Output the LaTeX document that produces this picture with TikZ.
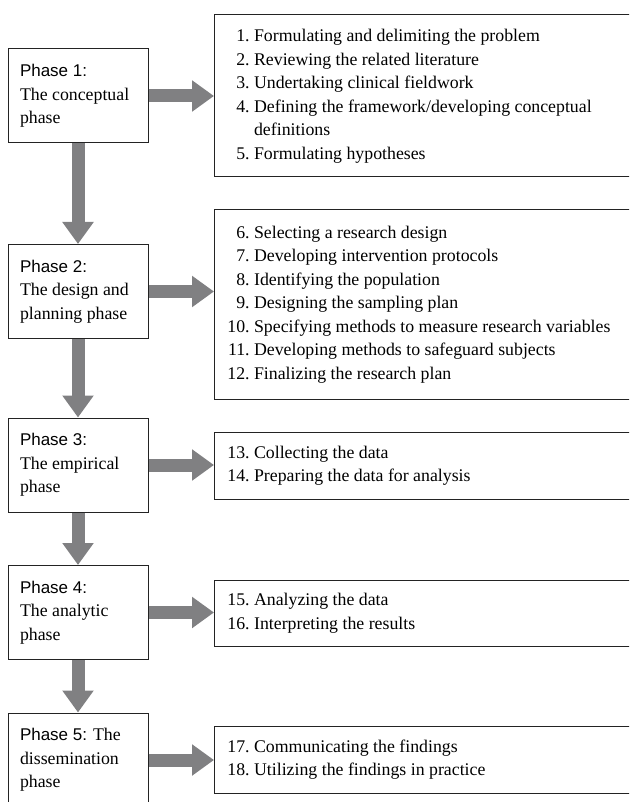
\documentclass[tikz,border=0pt]{standalone}
\usepackage{fontspec}
\setmainfont{Liberation Serif}
\setsansfont{Liberation Sans}
\usetikzlibrary{arrows.meta, positioning}
\definecolor{arrowgray}{RGB}{128,128,130}
\definecolor{boxline}{RGB}{35,35,35}
\newcommand{\phasehead}[1]{{\sffamily\fontsize{17}{23.3}\selectfont #1}}
\newcommand{\stepno}[1]{\makebox[1.3em][r]{#1}\ }

\tikzset{
  phasebox/.style={draw=boxline, line width=1pt, text width=116pt, inner xsep=12pt, minimum height=94pt, align=flush left, font=\fontsize{17.8}{23.3}\selectfont},
  listbox/.style={draw=boxline, line width=1pt, anchor=west, text width=410pt, inner xsep=12pt, align=flush left, font=\fontsize{17.8}{23.5}\selectfont},
  blockarrow/.style={draw=arrowgray, line width=13pt, -{Triangle[width=30pt, length=22pt]}},
}

\begin{document}
\begin{tikzpicture}[x=1pt, y=-1pt, line join=miter]
  \useasboundingbox (0,0) rectangle (629,802);
  \clip (0,0) rectangle (629,802);
  % phases
  \node[phasebox] (p1) at (78,96) {\phasehead{Phase 1:}\\The conceptual\\phase};
  \node[phasebox] (p2) at (78,291.5) {\phasehead{Phase 2:}\\The design and\\planning phase};
  \node[phasebox] (p3) at (78,465) {\phasehead{Phase 3:}\\The empirical\\phase};
  \node[phasebox] (p4) at (78,612.5) {\phasehead{Phase 4:}\\The analytic\\phase};
  \node[phasebox] (p5) at (78,760) {\phasehead{Phase 5:} The\\dissemination\\phase};
  % steps
  \node[listbox, minimum height=162pt] (s1) at (214,96) {\stepno{1.}Formulating and delimiting the problem\\
    \stepno{2.}Reviewing the related literature\\
    \stepno{3.}Undertaking clinical fieldwork\\
    \stepno{4.}Defining the framework/developing conceptual\\
    \stepno{}definitions\\
    \stepno{5.}Formulating hypotheses};
  \node[listbox, minimum height=189pt] (s2) at (214,304.5) {\stepno{6.}Selecting a research design\\
    \stepno{7.}Developing intervention protocols\\
    \stepno{8.}Identifying the population\\
    \stepno{9.}Designing the sampling plan\\
    \stepno{10.}Specifying methods to measure research variables\\
    \stepno{11.}Developing methods to safeguard subjects\\
    \stepno{12.}Finalizing the research plan};
  \node[listbox, minimum height=67pt] (s3) at (214,465.5) {\stepno{13.}Collecting the data\\
    \stepno{14.}Preparing the data for analysis};
  \node[listbox, minimum height=66pt] (s4) at (214,613) {\stepno{15.}Analyzing the data\\
    \stepno{16.}Interpreting the results};
  \node[listbox, minimum height=67pt] (s5) at (214,759.5) {\stepno{17.}Communicating the findings\\
    \stepno{18.}Utilizing the findings in practice};
  % arrows
  \draw[blockarrow] (p1.east) -- (p1.east -| s1.west);
  \draw[blockarrow] (p2.east) -- (p2.east -| s2.west);
  \draw[blockarrow] (p3.east) -- (p3.east -| s3.west);
  \draw[blockarrow] (p4.east) -- (p4.east -| s4.west);
  \draw[blockarrow] (p5.east) -- (p5.east -| s5.west);
  \draw[blockarrow] (p1.south) -- (p2.north);
  \draw[blockarrow] (p2.south) -- (p3.north);
  \draw[blockarrow] (p3.south) -- (p4.north);
  \draw[blockarrow] (p4.south) -- (p5.north);
\end{tikzpicture}
\end{document}
